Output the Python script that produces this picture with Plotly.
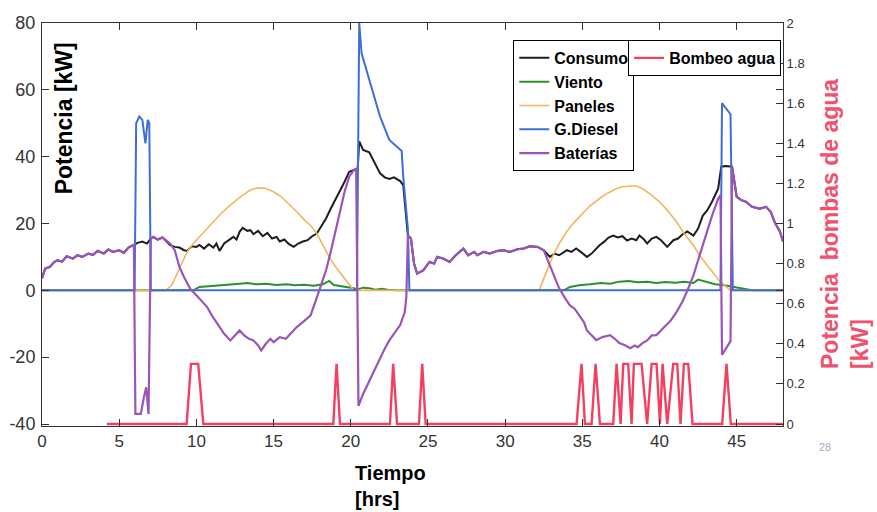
import plotly.graph_objects as go

# ---------------- data ----------------
cons_t = [0, 0.2, 0.5, 0.8, 1.0, 1.3, 1.6, 2.0, 2.3, 2.6,
          3.0, 3.3, 3.6, 4.0, 4.3, 4.6, 5.0, 5.3, 5.6, 5.95,
          6.2, 6.5, 6.8, 7.05, 7.2, 7.5, 7.8, 8.0, 8.3, 8.6,
          8.9, 9.2, 9.4, 9.7, 10.0, 10.2, 10.5, 10.8, 11.1, 11.3,
          11.5, 11.8, 12.1, 12.4, 12.6, 12.8, 13.0, 13.3, 13.5, 13.7,
          14.0, 14.3, 14.6, 14.9, 15.2, 15.4, 15.7, 16.0, 16.3, 16.6,
          16.9, 17.2, 17.5, 17.8, 18.0, 18.4, 18.7, 19.0, 19.3, 19.6,
          19.9, 20.3, 20.45, 20.55, 20.8, 21.2, 21.5, 21.9, 22.2, 22.5,
          22.8, 23.2, 23.4, 23.6, 23.7, 23.9, 24.1, 24.3, 24.7, 25.1,
          25.4, 25.6, 26.0, 26.4, 26.8, 27.3, 27.6, 28.0, 28.2, 28.6,
          29.0, 29.5, 29.9, 30.3, 30.8, 31.2, 31.6, 32.1, 32.5, 32.9,
          33.2, 33.5, 33.7, 34.0, 34.3, 34.6, 34.9, 35.3, 35.6, 35.9,
          36.1, 36.4, 36.7, 37.0, 37.3, 37.6, 37.9, 38.2, 38.5, 38.7,
          39.0, 39.2, 39.5, 39.8, 40.1, 40.5, 40.9, 41.2, 41.5, 41.8,
          42.0, 42.2, 42.5, 42.8, 43.1, 43.4, 43.8, 44.0, 44.3, 44.6,
          44.7, 44.8, 45.0, 45.3, 45.6, 46.0, 46.5, 46.9, 47.2, 47.5,
          47.8, 48.0]
cons_v = [3.6, 6.5, 7.0, 8.5, 9.0, 8.6, 10.2, 9.5, 10.5, 10.0,
          11.0, 10.6, 11.8, 11.0, 12.2, 11.5, 12.0, 11.2, 12.8, 13.6,
          14.2, 14.6, 14.0, 15.5, 16.0, 15.2, 15.8, 15.0, 13.5, 13.0,
          12.8, 12.0, 11.8, 13.2, 13.0, 13.6, 12.5, 13.8, 12.8, 14.0,
          11.8, 14.0, 15.0, 16.0, 15.2, 17.5, 18.7, 17.8, 18.0, 16.8,
          17.8, 16.2, 17.2, 15.5, 16.0, 14.6, 15.2, 13.8, 13.0, 14.0,
          14.6, 15.0, 16.2, 17.0, 18.5, 21.5, 24.4, 27.0, 29.5, 32.5,
          35.5, 36.3, 36.5, 44.6, 42.0, 41.3, 38.5, 35.0, 33.8, 33.3,
          33.8, 32.7, 31.5, 21.4, 16.4, 15.5, 8.0, 5.0, 6.0, 8.5,
          8.0, 10.0, 9.5, 8.5, 10.5, 12.5, 10.5, 11.5, 10.5, 11.5,
          11.0, 11.8, 12.0, 11.5, 12.3, 12.5, 13.2, 13.0, 12.0, 10.0,
          11.0, 10.5, 11.0, 12.0, 11.5, 12.5, 11.5, 10.0, 11.0, 12.5,
          13.4, 14.5, 15.8, 16.4, 15.8, 16.2, 14.9, 15.5, 15.0, 16.4,
          15.2, 14.0, 15.5, 16.0, 15.0, 13.0, 15.0, 15.5, 16.8, 17.6,
          17.0, 16.4, 18.5, 22.3, 24.0, 26.5, 30.4, 37.0, 37.2, 37.0,
          37.0, 34.0, 28.0, 27.0, 26.5, 25.0, 24.4, 25.0, 23.5, 20.0,
          17.6, 14.6]

wind_t = [0, 9.8, 10.2, 10.8, 11.5, 12.2, 12.8, 13.3, 13.9, 14.5,
          15.2, 15.8, 16.4, 17.0, 17.6, 18.2, 18.6, 18.9, 19.5, 20.2,
          20.4, 20.8, 21.2, 21.6, 22.0, 22.4, 23.0, 33.8, 34.2, 34.8,
          35.5, 36.2, 36.8, 37.4, 38.0, 38.6, 39.2, 39.8, 40.4, 41.0,
          41.6, 42.2, 42.5, 43.0, 43.6, 44.2, 44.8, 45.3, 46.0, 48.0]
wind_v = [0, 0, 1.0, 1.2, 1.5, 1.6, 2.0, 2.2, 1.8, 2.0,
          1.6, 1.8, 1.5, 1.7, 1.4, 1.8, 2.8, 1.6, 1.2, 0.6,
          0.2, 0.8, 0.6, 0.2, 0.5, 0.2, 0, 0, 1.0, 1.5,
          1.8, 2.2, 2.0, 2.6, 2.8, 2.4, 2.6, 2.2, 2.5, 2.3,
          2.6, 2.2, 3.2, 2.6, 1.8, 1.5, 1.0, 0.4, 0, 0]

pan_t = [0, 8.0, 8.4, 8.7, 9.0, 9.4, 9.8, 10.2, 10.6, 11.1,
         11.6, 12.2, 12.6, 13.0, 13.5, 13.9, 14.4, 15.0, 15.5, 16.0,
         16.5, 17.0, 17.4, 17.8, 18.2, 18.6, 19.1, 19.6, 20.2, 32.2,
         32.5, 32.8, 33.1, 33.5, 34.0, 34.5, 35.0, 35.5, 36.1, 36.6,
         37.2, 37.6, 38.1, 38.5, 38.9, 39.4, 40.0, 40.5, 41.1, 41.6,
         42.2, 42.6, 43.1, 43.5, 43.9, 44.6, 48.0]
pan_v = [0, 0, 1.5, 4.5, 8.0, 11.5, 14.0, 16.0, 18.0, 20.5,
         23.0, 25.5, 27.0, 28.5, 30.0, 30.6, 30.6, 29.5, 28.0, 25.8,
         23.5, 21.0, 19.4, 17.0, 13.4, 10.0, 6.5, 3.5, 0, 0,
         3.6, 7.0, 10.4, 14.0, 17.6, 20.5, 23.0, 25.3, 27.4, 29.0,
         30.4, 31.0, 31.2, 31.2, 30.4, 28.8, 26.5, 24.0, 20.5, 17.0,
         13.4, 10.5, 7.4, 5.0, 2.7, 0, 0]

dsl_t = [0, 6.0, 6.1, 6.3, 6.5, 6.7, 6.85, 6.95, 7.05, 20.4,
         20.55, 20.7, 21.2, 21.9, 22.5, 23.3, 23.4, 23.7, 23.8, 43.95,
         44.05, 44.6, 44.75, 48.0]
dsl_v = [0, 0, 50, 52, 51, 44, 51, 50, 0, 0,
         80, 71, 63, 52, 45, 41.7, 34, 18.5, 0, 0,
         56, 52.7, 0, 0]

bat_t = [0, 0.2, 0.5, 0.8, 1.0, 1.3, 1.6, 2.0, 2.3, 2.6,
         3.0, 3.3, 3.6, 4.0, 4.3, 4.6, 5.0, 5.3, 5.6, 5.95,
         6.05, 6.4, 6.6, 6.75, 6.9, 7.05, 7.2, 7.5, 7.8, 8.0,
         8.3, 8.6, 8.9, 9.2, 9.6, 10.0, 10.4, 10.7, 11.0, 11.5,
         11.8, 12.2, 12.5, 12.8, 13.1, 13.4, 13.7, 14.0, 14.2, 14.5,
         14.8, 15.0, 15.4, 15.8, 16.1, 16.5, 16.9, 17.4, 18.0, 18.4,
         18.7, 19.0, 19.3, 19.6, 19.9, 20.2, 20.35, 20.5, 20.8, 21.2,
         21.6, 21.9, 22.2, 22.5, 22.9, 23.2, 23.5, 23.6, 23.7, 23.9,
         24.1, 24.3, 24.7, 25.1, 25.4, 25.6, 26.0, 26.4, 26.8, 27.3,
         27.6, 28.0, 28.2, 28.6, 29.0, 29.5, 29.9, 30.3, 30.8, 31.2,
         31.6, 32.1, 32.5, 32.9, 33.2, 33.5, 33.9, 34.2, 34.5, 34.8,
         35.1, 35.3, 35.6, 35.9, 36.3, 36.8, 37.1, 37.4, 37.8, 38.1,
         38.4, 38.6, 38.9, 39.2, 39.5, 39.8, 40.2, 40.7, 41.1, 41.5,
         41.9, 42.2, 42.5, 42.8, 43.1, 43.4, 43.8, 43.95, 44.05, 44.6,
         44.7, 44.8, 45.0, 45.3, 45.6, 46.0, 46.5, 46.9, 47.2, 47.5,
         47.8, 48.0]
bat_v = [3.6, 6.5, 7.0, 8.5, 9.0, 8.6, 10.2, 9.5, 10.5, 10.0,
         11.0, 10.6, 11.8, 11.0, 12.2, 11.5, 12.0, 11.2, 12.8, 13.6,
         -37.0, -37.0, -32.0, -29.0, -37.0, 15.5, 16.0, 15.2, 15.8, 15.0,
         14.0, 12.0, 7.0, 4.0, 0.5, -1.5, -3.5, -5.0, -7.5, -11.0,
         -13.0, -15.0, -13.5, -12.0, -13.5, -14.5, -15.0, -16.5, -18.0, -16.0,
         -14.5, -15.5, -14.0, -14.5, -13.0, -11.0, -9.5, -7.5, 0.5, 6.0,
         11.5, 17.5, 24.0, 29.5, 34.0, 36.0, 36.3, -34.6, -31.0, -27.0,
         -23.0, -20.0, -17.5, -15.0, -12.5, -10.4, -6.5, -2.0, 16.4, 15.5,
         8.0, 5.0, 6.0, 8.5, 8.0, 10.0, 9.5, 8.5, 10.5, 12.5,
         10.5, 11.5, 10.5, 11.5, 11.0, 11.8, 12.0, 11.5, 12.3, 12.5,
         13.2, 13.0, 12.0, 7.4, 4.0, 0.6, -2.5, -4.5, -5.5, -7.4,
         -9.5, -12.0, -13.5, -14.9, -14.0, -13.4, -14.5, -15.8, -16.5, -17.3,
         -16.5, -17.0, -15.8, -15.0, -13.5, -13.4, -11.5, -9.2, -6.5, -3.3,
         1.0, 4.5, 9.0, 13.4, 18.0, 22.3, 27.4, 28.5, -19.3, -15.2,
         37.0, 34.0, 28.0, 27.0, 26.5, 25.0, 24.4, 25.0, 23.5, 20.0,
         17.6, 14.6]

pump_t = [4.2, 9.37, 9.65, 10.12, 10.45, 18.87, 19.08, 19.3, 22.54, 22.75,
          23.0, 24.42, 24.63, 24.85, 34.63, 34.95, 35.17, 35.6, 35.86, 36.14,
          37.0, 37.22, 37.48, 37.65, 37.97, 38.19, 38.34, 38.84, 39.2, 39.49,
          39.81, 40.03, 40.2, 40.5, 40.89, 41.15, 41.36, 41.58, 41.86, 42.14,
          44.06, 44.34, 44.62, 48.0]
pump_v = [0, 0, 0.3, 0.3, 0, 0, 0.3, 0, 0, 0.3,
          0, 0, 0.3, 0, 0, 0.3, 0, 0, 0.3, 0,
          0, 0.3, 0, 0.3, 0.3, 0, 0.3, 0.3, 0, 0.3,
          0.3, 0, 0.3, 0, 0.3, 0.3, 0, 0.3, 0.3, 0,
          0, 0.3, 0, 0]

x_ticks = [0, 5, 10, 15, 20, 25, 30, 35, 40, 45]
y_ticks = [-40, -20, 0, 20, 40, 60, 80]
y_labels = ["-40", "-20", "0", "20", "40", "60", "80"]
y2_ticks = [0, 0.2, 0.4, 0.6, 0.8, 1, 1.2, 1.4, 1.6, 1.8, 2]
y2_labels = ["0", "0.2", "0.4", "0.6", "0.8", "1", "1.2", "1.4", "1.6", "1.8", "2"]

# ---------------- figure ----------------
FONT = "Arial, Liberation Sans, sans-serif"
fig = go.Figure()

series = [
    ("Consumo", cons_t, cons_v, "#1e1e1e", 2.0),
    ("Viento", wind_t, wind_v, "#2f8f2a", 2.0),
    ("Paneles", pan_t, pan_v, "#f5b55e", 1.6),
    ("G.Diesel", dsl_t, dsl_v, "#3c6fd8", 2.0),
    ("Baterías", bat_t, bat_v, "#9a55b8", 2.2),
]
for name, t, v, col, w in series:
    fig.add_trace(go.Scatter(x=t, y=v, mode="lines", name=name,
                             legendgroup=name, legend="legend",
                             line=dict(color=col, width=w)))

fig.add_trace(go.Scatter(x=pump_t, y=pump_v, mode="lines", name="Bombeo agua",
                         yaxis="y2", legend="legend2",
                         line=dict(color="#f4405e", width=2.4)))

axis_common = dict(showgrid=False, zeroline=False, showline=True,
                   linecolor="#333", linewidth=1, ticks="inside",
                   tickcolor="#333", ticklen=7, automargin=False)

fig.update_layout(
    width=877, height=512,
    margin=dict(l=42, r=94, t=23, b=86),
    paper_bgcolor="white", plot_bgcolor="white",
    font=dict(family=FONT, color="#222"),
    xaxis=dict(range=[0, 48], tickvals=x_ticks, mirror="ticks",
               tickfont=dict(size=17, color="#333"), **axis_common),
    yaxis=dict(range=[-40.6, 80], tickvals=y_ticks, ticktext=y_labels,
               mirror="ticks", ticklabelstandoff=2,
               tickfont=dict(size=18, color="#333"), **axis_common),
    yaxis2=dict(overlaying="y", side="right", range=[-0.01, 2],
                tickvals=y2_ticks, ticktext=y2_labels,
                tickfont=dict(size=13, color="#333"), **axis_common),
    legend=dict(x=0.636, y=0.958, xanchor="left", yanchor="top",
                bgcolor="white", bordercolor="black", borderwidth=1,
                tracegroupgap=0,
                font=dict(family=FONT, size=16, color="black", weight="bold")),
    legend2=dict(x=0.791, y=0.958, xanchor="left", yanchor="top",
                 bgcolor="white", bordercolor="black", borderwidth=1,
                 font=dict(family=FONT, size=16, color="black", weight="bold")),
    showlegend=True,
)

fig.add_annotation(text="<b>Potencia [kW]</b>", xref="paper", yref="paper",
                   x=0.03, y=0.764, xanchor="center", yanchor="middle",
                   textangle=-90, showarrow=False,
                   font=dict(family=FONT, size=23, color="black"))
fig.add_annotation(text="<b>Potencia  bombas de agua<br>[kW]</b>",
                   xref="paper", yref="paper", x=1.083, y=0.50,
                   xanchor="center", yanchor="middle", align="left",
                   textangle=-90, showarrow=False,
                   font=dict(family=FONT, size=23, color="#f2506c"))
fig.add_annotation(text="<b>Tiempo<br>[hrs]</b>", xref="paper", yref="paper",
                   x=0.42, y=-0.085, xanchor="left", yanchor="top",
                   align="left", showarrow=False,
                   font=dict(family=FONT, size=20, color="black"))
fig.add_annotation(text="28", xref="paper", yref="paper",
                   x=1.057, y=-0.052, xanchor="center", yanchor="middle",
                   showarrow=False, font=dict(family=FONT, size=11, color="#9fb0c2"))

fig.write_html("out.html", config={"displayModeBar": False},
               post_script="document.body.style.margin='0px';document.body.style.overflow='hidden';")
